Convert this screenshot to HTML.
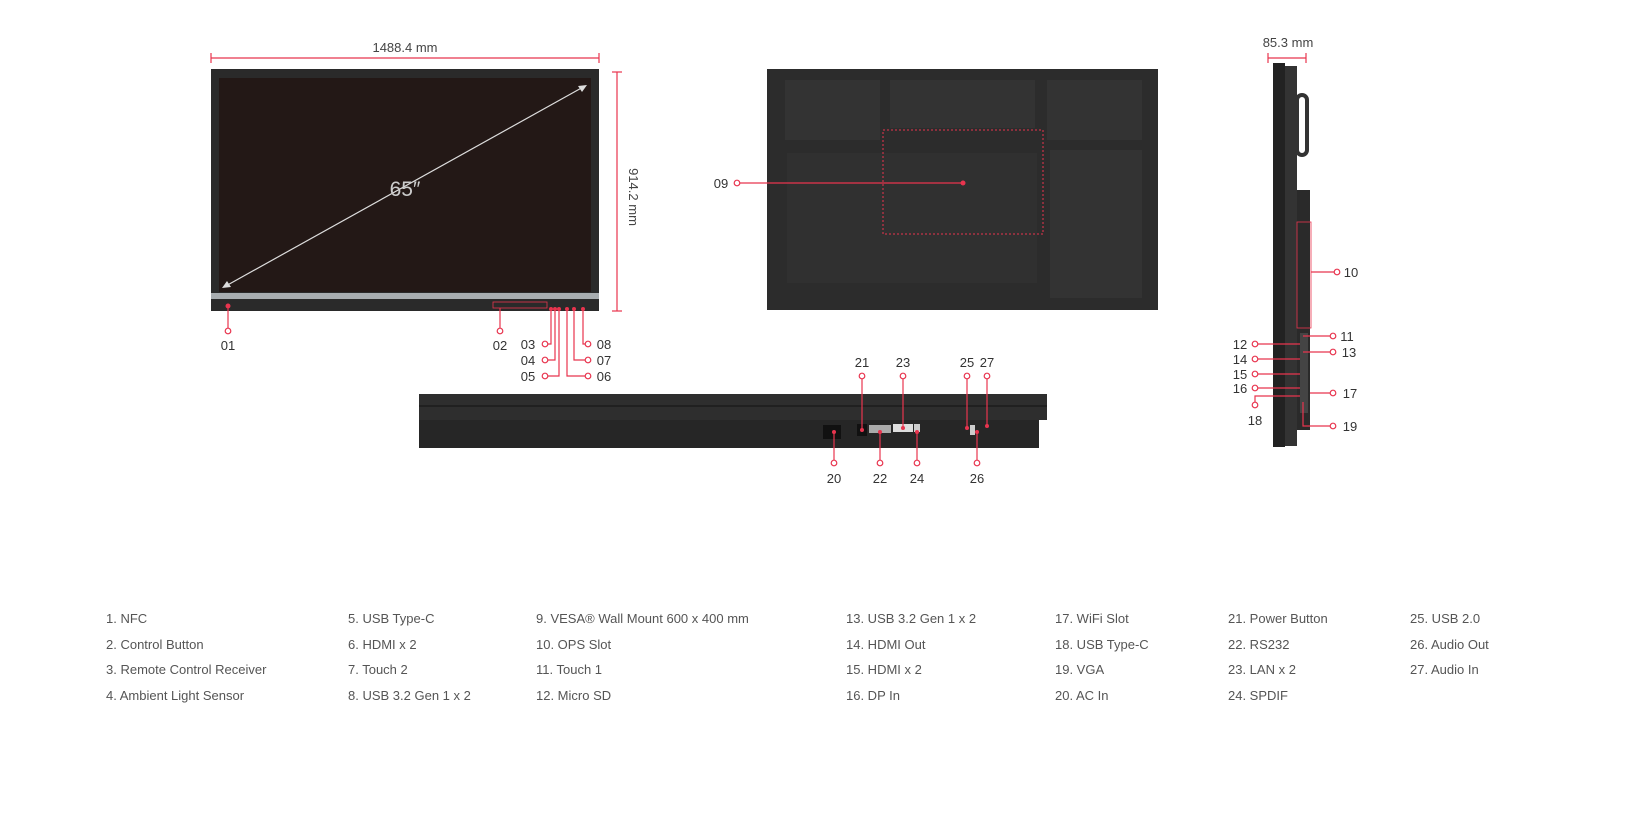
<!DOCTYPE html>
<html><head><meta charset="utf-8"><style>
body{margin:0;background:#fff;width:1647px;height:823px;overflow:hidden;font-family:"Liberation Sans",sans-serif}
svg text{font-family:"Liberation Sans",sans-serif}
.lg{position:absolute;font-size:13px;color:#555;line-height:25.7px}
</style></head><body>
<svg width="1647" height="823" style="position:absolute;left:0;top:0">
<g stroke="#e8344e" stroke-width="1.2" fill="none">
<!-- dimension lines -->
<line x1="211" y1="58" x2="599" y2="58"/><line x1="211" y1="53" x2="211" y2="63"/><line x1="599" y1="53" x2="599" y2="63"/>
<line x1="617" y1="72" x2="617" y2="311"/><line x1="612" y1="72" x2="622" y2="72"/><line x1="612" y1="311" x2="622" y2="311"/>
<line x1="1268" y1="58" x2="1306" y2="58"/><line x1="1268" y1="53" x2="1268" y2="63"/><line x1="1306" y1="53" x2="1306" y2="63"/>
</g>
<text x="405" y="52" font-size="13" fill="#444" text-anchor="middle">1488.4 mm</text>
<text x="1288" y="47" font-size="13" fill="#444" text-anchor="middle">85.3 mm</text>
<text transform="translate(629,197) rotate(90)" font-size="13" fill="#444" text-anchor="middle">914.2 mm</text>
<!-- front -->
<rect x="211" y="69" width="388" height="242" fill="#2a2a2a"/>
<rect x="219" y="78" width="372" height="214" fill="#231816"/>
<rect x="211" y="293" width="388" height="6" fill="#a8adb0"/>
<rect x="493" y="302" width="54" height="6" fill="none" stroke="#e8344e" stroke-width="0.8"/>
<line x1="585" y1="86" x2="224" y2="287" stroke="#ddd" stroke-width="1.2"/>
<path d="M587,85 l-9,1 l4,6z M222,288 l9,-1 l-4,-6z" fill="#ddd"/>
<text x="405" y="196" font-size="21" fill="#ccc" text-anchor="middle">65″</text>
<!-- back -->
<rect x="767" y="69" width="391" height="241" fill="#2c2c2c"/>
<rect x="785" y="80" width="95" height="60" fill="#333"/><rect x="890" y="80" width="145" height="48" fill="#333"/><rect x="1047" y="80" width="95" height="60" fill="#333"/>
<rect x="1050" y="150" width="92" height="148" fill="#333"/><rect x="787" y="153" width="250" height="130" fill="#303030"/>
<rect x="883" y="130" width="160" height="104" fill="none" stroke="#e8344e" stroke-dasharray="2 2"/>
<!-- bottom view -->
<rect x="419" y="394" width="628" height="26" fill="#2e2e2e"/>
<rect x="419" y="420" width="620" height="28" fill="#262626"/>
<line x1="419" y1="406" x2="1047" y2="406" stroke="#111"/>
<rect x="823" y="425" width="18" height="14" fill="#111"/><rect x="857" y="424" width="10" height="12" fill="#111"/>
<rect x="869" y="425" width="22" height="8" fill="#aaa"/><rect x="893" y="424" width="20" height="8" fill="#ddd"/><rect x="914" y="424" width="6" height="8" fill="#ccc"/>
<rect x="970" y="425" width="5" height="10" fill="#ccc"/>
<!-- side view -->
<rect x="1273" y="63" width="12" height="384" fill="#222"/><rect x="1285" y="66" width="12" height="380" fill="#333"/>
<rect x="1297" y="95" width="10" height="60" rx="5" fill="none" stroke="#333" stroke-width="4"/>
<rect x="1297" y="190" width="13" height="240" fill="#2a2a2a"/>
<rect x="1297" y="222" width="14" height="106" fill="none" stroke="#e8344e" stroke-width="0.8"/>
<rect x="1300" y="333" width="8" height="80" fill="#444"/>
<!-- connectors -->
<g stroke="#e8344e" stroke-width="1.2" fill="none">
<line x1="228" y1="306" x2="228" y2="328"/><line x1="500" y1="308" x2="500" y2="328"/>
<polyline points="548,344 551,344 551,309"/><polyline points="548,360 555,360 555,309"/><polyline points="548,376 559,376 559,309"/>
<polyline points="585,344 583,344 583,309"/><polyline points="585,360 574,360 574,309"/><polyline points="585,376 567,376 567,309"/>
<line x1="740" y1="183" x2="963" y2="183"/>
<line x1="862" y1="379" x2="862" y2="430"/><line x1="903" y1="379" x2="903" y2="428"/><line x1="967" y1="379" x2="967" y2="428"/><line x1="987" y1="379" x2="987" y2="426"/>
<line x1="834" y1="432" x2="834" y2="460"/><line x1="880" y1="432" x2="880" y2="460"/><line x1="917" y1="432" x2="917" y2="460"/><line x1="977" y1="432" x2="977" y2="460"/>
<line x1="1311" y1="272" x2="1334" y2="272"/><line x1="1303" y1="336" x2="1330" y2="336"/><line x1="1303" y1="352" x2="1330" y2="352"/>
<polyline points="1310,393 1330,393"/><polyline points="1303,402 1303,426 1330,426"/>
<line x1="1258" y1="344" x2="1300" y2="344"/><line x1="1258" y1="359" x2="1300" y2="359"/><line x1="1258" y1="374" x2="1300" y2="374"/><line x1="1258" y1="388" x2="1300" y2="388"/>
<polyline points="1255,402 1255,396 1300,396"/>
</g>
<g fill="#fff" stroke="#e8344e" stroke-width="1.2">
<circle cx="228" cy="331" r="2.8"/><circle cx="500" cy="331" r="2.8"/>
<circle cx="545" cy="344" r="2.8"/><circle cx="545" cy="360" r="2.8"/><circle cx="545" cy="376" r="2.8"/>
<circle cx="588" cy="344" r="2.8"/><circle cx="588" cy="360" r="2.8"/><circle cx="588" cy="376" r="2.8"/>
<circle cx="737" cy="183" r="2.8"/>
<circle cx="862" cy="376" r="2.8"/><circle cx="903" cy="376" r="2.8"/><circle cx="967" cy="376" r="2.8"/><circle cx="987" cy="376" r="2.8"/>
<circle cx="834" cy="463" r="2.8"/><circle cx="880" cy="463" r="2.8"/><circle cx="917" cy="463" r="2.8"/><circle cx="977" cy="463" r="2.8"/>
<circle cx="1337" cy="272" r="2.8"/><circle cx="1333" cy="336" r="2.8"/><circle cx="1333" cy="352" r="2.8"/><circle cx="1333" cy="393" r="2.8"/><circle cx="1333" cy="426" r="2.8"/>
<circle cx="1255" cy="344" r="2.8"/><circle cx="1255" cy="359" r="2.8"/><circle cx="1255" cy="374" r="2.8"/><circle cx="1255" cy="388" r="2.8"/><circle cx="1255" cy="405" r="2.8"/>
</g>
<g fill="#e8344e">
<circle cx="228" cy="306" r="2.5"/><circle cx="963" cy="183" r="2.5"/>
<circle cx="551" cy="309" r="2"/><circle cx="555" cy="309" r="2"/><circle cx="559" cy="309" r="2"/><circle cx="567" cy="309" r="2"/><circle cx="574" cy="309" r="2"/><circle cx="583" cy="309" r="2"/>
<circle cx="862" cy="430" r="2"/><circle cx="903" cy="428" r="2"/><circle cx="967" cy="428" r="2"/><circle cx="987" cy="426" r="2"/><circle cx="834" cy="432" r="2"/><circle cx="880" cy="432" r="2"/><circle cx="917" cy="432" r="2"/><circle cx="977" cy="432" r="2"/>
</g>
<g font-size="13" fill="#333" text-anchor="middle">
<text x="228" y="350">01</text><text x="500" y="350">02</text>
<text x="528" y="349">03</text><text x="528" y="365">04</text><text x="528" y="381">05</text>
<text x="604" y="349">08</text><text x="604" y="365">07</text><text x="604" y="381">06</text>
<text x="721" y="188">09</text>
<text x="862" y="367">21</text><text x="903" y="367">23</text><text x="967" y="367">25</text><text x="987" y="367">27</text>
<text x="834" y="483">20</text><text x="880" y="483">22</text><text x="917" y="483">24</text><text x="977" y="483">26</text>
<text x="1351" y="277">10</text><text x="1347" y="341">11</text><text x="1349" y="357">13</text><text x="1350" y="398">17</text><text x="1350" y="431">19</text>
<text x="1240" y="349">12</text><text x="1240" y="364">14</text><text x="1240" y="379">15</text><text x="1240" y="393">16</text><text x="1255" y="425">18</text>
</g>
</svg>
<div class="lg" style="left:106px;top:606px">1. NFC<br>2. Control Button<br>3. Remote Control Receiver<br>4. Ambient Light Sensor</div>
<div class="lg" style="left:348px;top:606px">5. USB Type-C<br>6. HDMI x 2<br>7. Touch 2<br>8. USB 3.2 Gen 1 x 2</div>
<div class="lg" style="left:536px;top:606px">9. VESA® Wall Mount 600 x 400 mm<br>10. OPS Slot<br>11. Touch 1<br>12. Micro SD</div>
<div class="lg" style="left:846px;top:606px">13. USB 3.2 Gen 1 x 2<br>14. HDMI Out<br>15. HDMI x 2<br>16. DP In</div>
<div class="lg" style="left:1055px;top:606px">17. WiFi Slot<br>18. USB Type-C<br>19. VGA<br>20. AC In</div>
<div class="lg" style="left:1228px;top:606px">21. Power Button<br>22. RS232<br>23. LAN x 2<br>24. SPDIF</div>
<div class="lg" style="left:1410px;top:606px">25. USB 2.0<br>26. Audio Out<br>27. Audio In</div>
</body></html>
